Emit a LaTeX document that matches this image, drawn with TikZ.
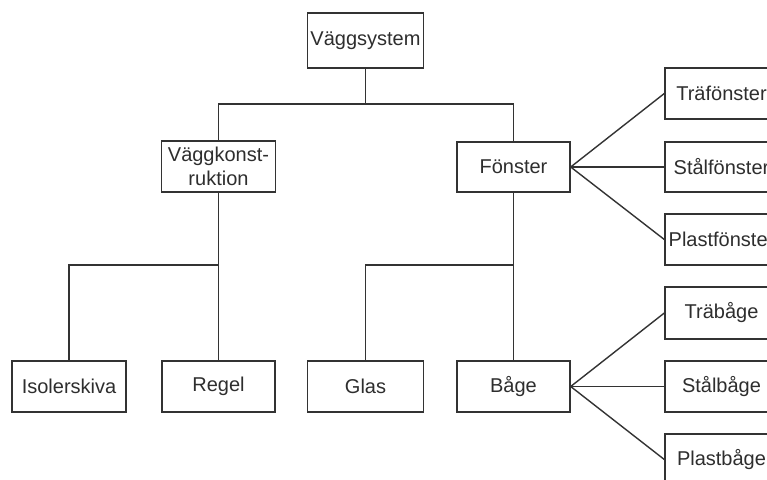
\documentclass[tikz,border=0pt]{standalone}
\usepackage{fontspec}
\setmainfont{Liberation Sans}
\definecolor{ink}{HTML}{333333}
\definecolor{txt}{HTML}{2E2E2E}
\begin{document}
\begin{tikzpicture}[x=1pt,y=-1pt,
  box/.style={draw=ink, line width=1.4pt, fill=white, text=txt, inner sep=0pt,
    minimum width=114pt, minimum height=51pt, align=center,
    font=\fontsize{20}{24}\selectfont},
  link/.style={draw=ink, line width=1.4pt}]
\clip (0,0) rectangle (767,479);
\fill[white] (0,0) rectangle (767,479);

% top level
\node[box, minimum width=116pt, minimum height=55pt] (sys) at (365.5,40.5) {Väggsystem};

% second level
\node[box] (vk) at (218.5,166.5) {Väggkonst-\\ruktion};
\node[box, minimum width=113pt, minimum height=50pt] (fo) at (513.5,167) {Fönster};

% window types
\node[box, minimum width=113pt] (tf) at (721.5,93.5) {Träfönster};
\node[box, minimum width=113pt, minimum height=50pt] (sf) at (721.5,167) {Stålfönster};
\node[box, minimum width=113pt] (pf) at (721.5,239.5) {Plastfönster};

% bottom level
\node[box] (iso) at (69,386.5) {Isolerskiva};
\node[box, minimum width=113pt] (reg) at (218.5,386.5) {Regel};
\node[box, minimum width=116pt] (glas) at (365.5,386.5) {Glas};
\node[box, minimum width=113pt] (bage) at (513.5,386.5) {Båge};

% frame types
\node[box, minimum width=113pt, minimum height=52pt] (tb) at (721.5,313) {Träbåge};
\node[box, minimum width=113pt] (sb) at (721.5,386.5) {Stålbåge};
\node[box, minimum width=113pt] (pb) at (721.5,459.5) {Plastbåge};

% junction points
\coordinate (j1) at (365.5,104);
\coordinate (j2) at (218.5,265);
\coordinate (j3) at (513.5,265);

% tree connectors
\draw[link] (sys.south) -- (j1);
\draw[link] (vk.north) |- (j1) -| (fo.north);
\draw[link] (vk.south) -- (reg.north);
\draw[link] (iso.north) |- (j2);
\draw[link] (fo.south) -- (bage.north);
\draw[link] (glas.north) |- (j3);

% fans
\draw[link] (fo.east) -- (tf.west);
\draw[link] (fo.east) -- (sf.west);
\draw[link] (fo.east) -- (pf.west);
\draw[link] (bage.east) -- (tb.west);
\draw[link] (bage.east) -- (sb.west);
\draw[link] (bage.east) -- (pb.west);
\end{tikzpicture}
\end{document}
